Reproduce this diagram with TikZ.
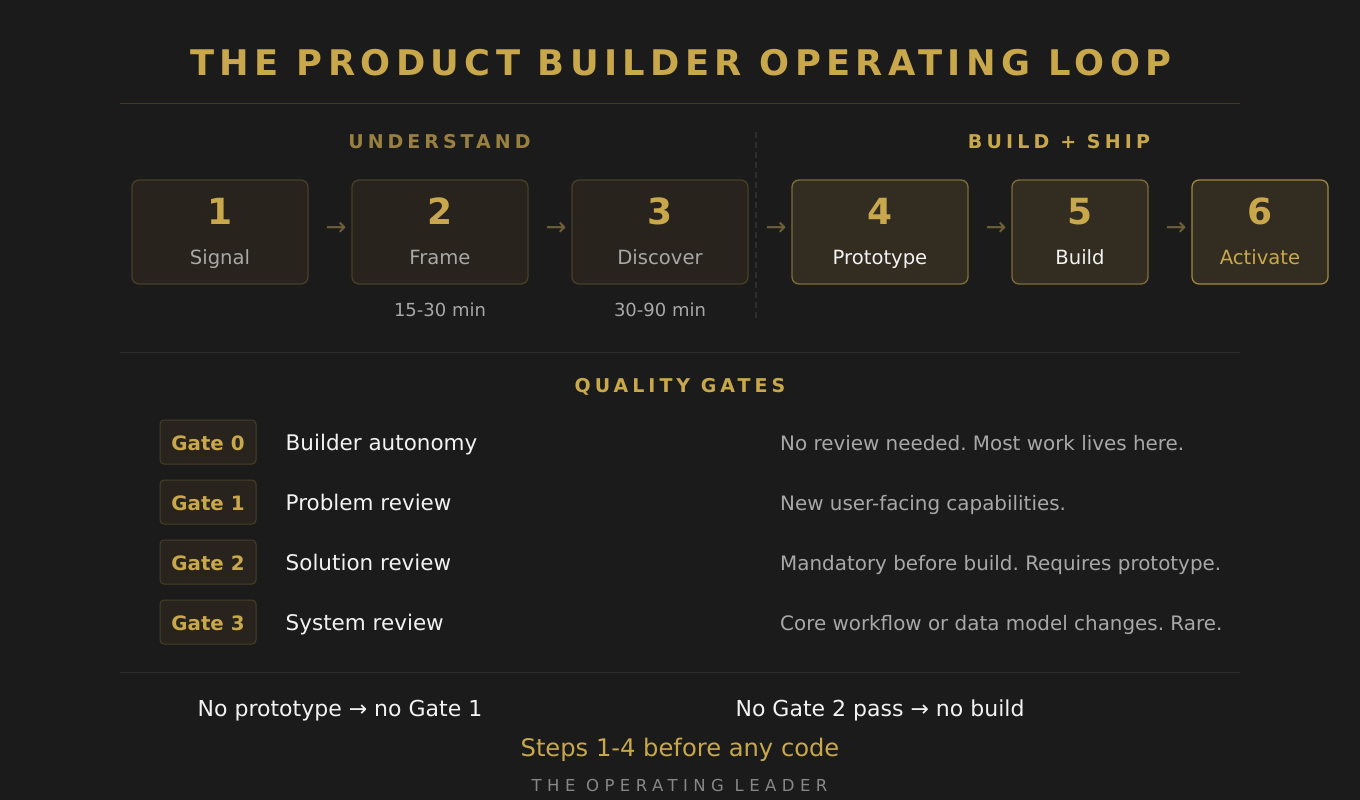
\documentclass[tikz,border=0pt]{standalone}
\usepackage{fontspec}
\setmainfont{DejaVu Sans}
\usetikzlibrary{positioning,calc}

\definecolor{bg}{RGB}{27,27,27}
\definecolor{gold}{RGB}{201,168,76}
\definecolor{dimgold}{RGB}{154,128,64}
\definecolor{flowgold}{RGB}{112,96,56}
\definecolor{rulebrown}{RGB}{66,57,40}
\definecolor{rulegray}{RGB}{48,46,42}
\definecolor{lowfill}{RGB}{40,36,29}
\definecolor{lowline}{RGB}{72,62,40}
\definecolor{hifill}{RGB}{50,44,33}
\definecolor{hiline}{RGB}{128,108,58}
\definecolor{topline}{RGB}{160,135,66}
\definecolor{softgray}{RGB}{168,168,168}
\definecolor{footgray}{RGB}{135,135,135}
\definecolor{offwhite}{RGB}{242,242,242}

\newcommand{\tracked}[2]{{\addfontfeature{LetterSpace=#1}#2}}
\frenchspacing

\begin{document}
\begin{tikzpicture}[x=1pt,y=-1pt,
  every node/.style={inner sep=0pt},
  stepbox/.style={rounded corners=7pt, line width=1.3pt, minimum height=104pt},
  boxlow/.style={draw=lowline, fill=lowfill},
  boxhi/.style={draw=hiline, fill=hifill},
  boxtop/.style={draw=topline, fill=hifill},
  txtlow/.style={text=softgray},
  txthi/.style={text=offwhite},
  txttop/.style={text=gold},
  num/.style={anchor=base, text=gold, font=\fontsize{36}{40}\selectfont\bfseries},
  steplabel/.style={anchor=base, font=\fontsize{19.6}{22}\selectfont},
  flow/.style={text=flowgold, font=\fontsize{25}{27}\selectfont},
  phase/.style={anchor=base, font=\fontsize{19}{22}\selectfont\bfseries},
  badge/.style={draw=lowline, fill=lowfill, rounded corners=4pt, line width=1pt,
    minimum width=96pt, minimum height=44pt},
  badgetext/.style={anchor=base, text=gold, font=\fontsize{19.8}{22}\selectfont\bfseries},
  gatename/.style={anchor=base west, text=offwhite, font=\fontsize{21.5}{24}\selectfont},
  gatedesc/.style={anchor=base west, text=softgray, font=\fontsize{19.9}{22}\selectfont},
  rule/.style={line width=1pt}]

\fill[bg] (0,0) rectangle (1360,800);
\useasboundingbox (0,0) rectangle (1360,800);

% title
\node[anchor=base, text=gold, font=\fontsize{35.3}{40}\selectfont\bfseries] (title) at (681,76)
  {\tracked{15.3}{THE PRODUCT BUILDER OPERATING LOOP}};
\draw[rule, rulebrown] (120,103) -- (1240,103);

% the two phases
\node[phase, text=dimgold] (understand) at (439.5,148) {\tracked{21}{UNDERSTAND}};
\node[phase, text=gold] (buildship) at (1059,148) {\tracked{22}{BUILD + SHIP}};
\draw[rulegray, line width=1.2pt, dash pattern=on 6pt off 4pt] (756,132) -- (756,318);

% steps
\foreach \i/\x/\w/\lab/\bs/\ts in {1/220/176/Signal/boxlow/txtlow,
    2/440/176/Frame/boxlow/txtlow, 3/660/176/Discover/boxlow/txtlow,
    4/880/176/Prototype/boxhi/txthi, 5/1080/136/Build/boxhi/txthi,
    6/1260/136/Activate/boxtop/txttop} {
  \node[stepbox, \bs, minimum width=\w pt] (b\i) at (\x,232) {};
  \node[num] (n\i) at ([yshift=-45pt]b\i.north) {\i};
  \node[steplabel, \ts] (l\i) at ([yshift=-85pt]b\i.north) {\lab};
}
\foreach \a/\b in {1/2,2/3,3/4,4/5,5/6}
  \node[flow] (f\a) at ($(b\a.east)!.5!(b\b.west)+(6,-3.3)$) {→};

\node[anchor=base, text=softgray, font=\fontsize{18}{20}\selectfont] (t2) at ([yshift=-32pt]b2.south) {15-30 min};
\node[anchor=base, text=softgray, font=\fontsize{18}{20}\selectfont] (t3) at ([yshift=-32pt]b3.south) {30-90 min};

\draw[rule, rulegray] (120,352) -- (1240,352);

% quality gates
\node[phase, text=gold] (gates) at (680,392) {\tracked{21}{QUALITY GATES}};
\foreach \g/\y/\name/\desc in {0/442/Builder autonomy/No review needed. Most work lives here.,
    1/502/Problem review/New user-facing capabilities.,
    2/562/Solution review/Mandatory before build. Requires prototype.,
    3/622/System review/Core workflow or data model changes. Rare.} {
  \node[badge] (g\g) at (208,\y) {};
  \node[badgetext] (gt\g) at ([yshift=-8pt]g\g.center) {Gate \g};
  \node[gatename] (gn\g) at ([xshift=29pt,yshift=-8.5pt]g\g.east) {\name};
  \node[gatedesc] (gd\g) at (780,\y+8) {\desc};
}

\draw[rule, rulegray] (120,672) -- (1240,672);

% rules of thumb
\node[anchor=base, text=offwhite, font=\fontsize{22}{24}\selectfont] (no1) at (340,716) {No prototype → no Gate 1};
\node[anchor=base, text=offwhite, font=\fontsize{22}{24}\selectfont] (no2) at (880,716) {No Gate 2 pass → no build};
\node[anchor=base, text=gold, font=\fontsize{24.2}{26}\selectfont] (steps) at (680,756) {Steps 1-4 before any code};
\node[anchor=base, text=footgray, font=\fontsize{16.5}{18}\selectfont] (brand) at (679.5,791) {\tracked{33}{THE OPERATING LEADER}};
\end{tikzpicture}
\end{document}
